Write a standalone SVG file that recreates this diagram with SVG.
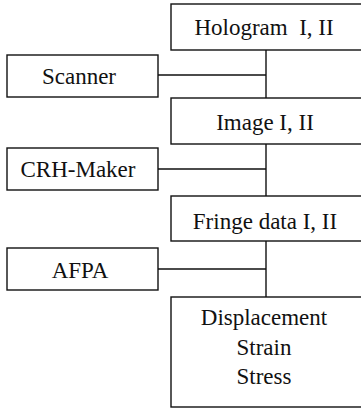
<svg xmlns="http://www.w3.org/2000/svg" width="361" height="410" viewBox="0 0 361 410">
<style>
.box{fill:#fff;stroke:#111;stroke-width:1.4}
.ln{fill:none;stroke:#111;stroke-width:1.4}
text{font-family:"Liberation Serif","Times New Roman",serif;font-size:23px;fill:#111;text-anchor:middle;white-space:pre}
</style>
<rect width="361" height="410" fill="#fff"/>
<g id="connectors">
<path class="ln" d="M266 50V98M158 75H266"/>
<path class="ln" d="M266 144V196M158 169H266"/>
<path class="ln" d="M266 241V297M158 269H266"/>
</g>
<g id="hologram"><rect class="box" x="171" y="4" width="200" height="46"/><text x="264" y="35">Hologram  I, II</text></g>
<g id="scanner"><rect class="box" x="7" y="55" width="151" height="42"/><text x="79" y="84">Scanner</text></g>
<g id="image"><rect class="box" x="171" y="98" width="200" height="46"/><text x="265" y="130">Image I, II</text></g>
<g id="crh"><rect class="box" x="7" y="148" width="151" height="42"/><text x="78" y="177">CRH-Maker</text></g>
<g id="fringe"><rect class="box" x="171" y="196" width="200" height="45"/><text x="265" y="229">Fringe data I, II</text></g>
<g id="afpa"><rect class="box" x="7" y="248" width="151" height="42"/><text x="80" y="278">AFPA</text></g>
<g id="result"><rect class="box" x="171" y="297" width="200" height="110"/><text x="264" y="325">Displacement</text><text x="264" y="355">Strain</text><text x="264" y="384">Stress</text></g>
</svg>
